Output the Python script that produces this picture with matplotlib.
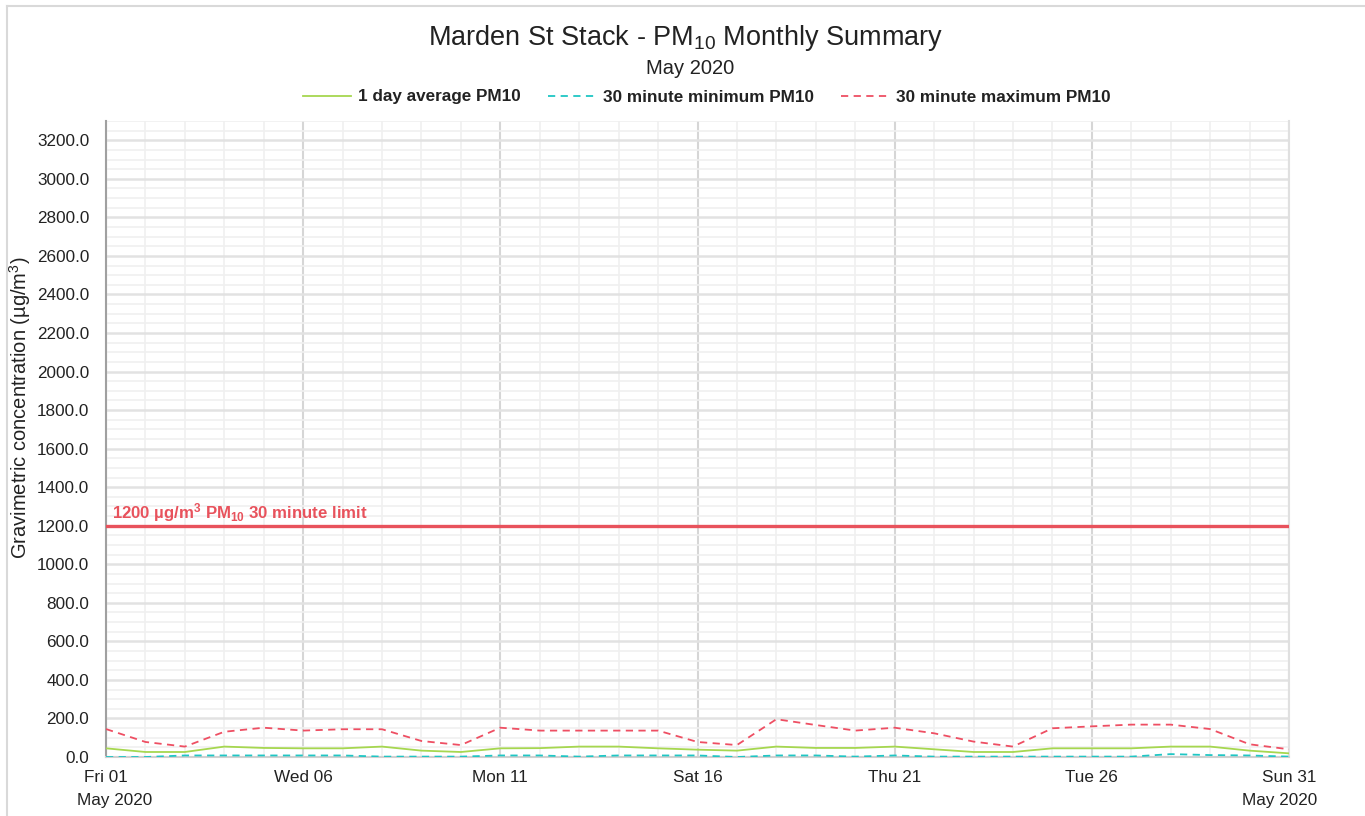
import matplotlib
matplotlib.use("Agg")
import matplotlib.pyplot as plt
from matplotlib.lines import Line2D
from matplotlib.ticker import MultipleLocator, FixedLocator
from matplotlib.transforms import blended_transform_factory

plt.rcParams['font.family'] = ['Liberation Sans', 'DejaVu Sans']
plt.rcParams['mathtext.fontset'] = 'custom'
plt.rcParams['mathtext.rm'] = 'Liberation Sans'
plt.rcParams['mathtext.it'] = 'Liberation Sans:italic'
plt.rcParams['mathtext.bf'] = 'Liberation Sans:bold'

days = list(range(1, 32))
avg_pm10 = [45, 26, 26, 54, 47, 45, 45, 54, 33, 26,
            45, 46, 54, 54, 45, 38, 33, 54, 47, 47,
            54, 40, 26, 26, 45, 45, 45, 54, 54, 33, 19]
min_pm10 = [0, 0, 8, 8, 8, 8, 8, 2, 2, 2,
            8, 8, 2, 8, 8, 8, 0, 8, 8, 2,
            8, 2, 2, 2, 2, 2, 2, 15, 10, 8, 2]
max_pm10 = [145, 78, 54, 131, 152, 137, 144, 144, 83, 62,
            152, 137, 137, 137, 137, 78, 62, 196, 166, 137,
            152, 123, 80, 54, 149, 159, 168, 168, 145, 66, 40]
limit_value = 1200
tick_days = [1, 6, 11, 16, 21, 26, 31]
tick_labels = ["Fri 01", "Wed 06", "Mon 11", "Sat 16", "Thu 21", "Tue 26", "Sun 31"]
month_label = "May 2020"
y_ticks = list(range(0, 3201, 200))

W, H = 1365, 816
fig = plt.figure(figsize=(W / 100, H / 100), dpi=100)
ax = fig.add_axes([106 / W, 1 - 757 / H, (1289 - 106) / W, (757 - 121) / H])

ax.set_xlim(1, 31)
ax.set_ylim(0, 3300)

# grids
ax.xaxis.set_major_locator(FixedLocator(tick_days))
ax.xaxis.set_minor_locator(MultipleLocator(1))
ax.yaxis.set_major_locator(FixedLocator(y_ticks))
ax.yaxis.set_minor_locator(MultipleLocator(50))
ax.grid(which='minor', axis='both', color='#f0f0f0', lw=1.2, zorder=0)
ax.grid(which='major', axis='y', color='#e2e2e2', lw=1.8, zorder=0)
ax.grid(which='major', axis='x', color='#d6d6d6', lw=1.5, zorder=0)
ax.set_axisbelow(True)

ax.plot(days, avg_pm10, color='#a6d74f', lw=1.3, label='1 day average PM10', zorder=3)
ax.plot(days, min_pm10, color='#1fc6c4', lw=1.3, ls=(0, (4, 3)), label='30 minute minimum PM10', zorder=3)
ax.plot(days, max_pm10, color='#ee4f63', lw=1.3, ls=(0, (4, 3)), label='30 minute maximum PM10', zorder=3)

ax.axhline(limit_value, color='#e8525c', lw=2.4, zorder=4)
ax.text(1.15, limit_value + 8, "1200 µg/m$^\\mathbf{3}$ PM$_\\mathbf{10}$ 30 minute limit",
        color='#e8525c', fontsize=12.1, fontweight='bold', va='bottom', ha='left')

ax.set_yticklabels([f"{v:.1f}" for v in y_ticks])
ax.set_xticklabels(tick_labels)
ax.tick_params(axis='both', which='both', length=0)
ax.tick_params(axis='y', labelsize=12.3, pad=12, colors='#222222')
ax.tick_params(axis='x', labelsize=12.3, pad=9, colors='#222222')

# month labels under first and last ticks
trans = blended_transform_factory(ax.transData, fig.transFigure)
ax.text(tick_days[0] + 0.23, 1 - 800 / H, month_label, transform=trans, ha='center', va='center',
        fontsize=12.3, color='#222222')
ax.text(tick_days[-1] - 0.25, 1 - 800 / H, month_label, transform=trans, ha='center', va='center',
        fontsize=12.3, color='#222222')

ax.spines['top'].set_visible(False)
ax.spines['left'].set_color('#a0a0a0')
ax.spines['left'].set_linewidth(1.5)
ax.spines['bottom'].set_color('#d0d0d0')
ax.spines['bottom'].set_linewidth(1.5)
ax.spines['right'].set_color('#e0e0e0')
ax.spines['right'].set_linewidth(1.5)

fig.text(20 / W, 1 - 408 / H, "Gravimetric concentration (µg/m$^3$)", rotation=90,
         ha='center', va='center', fontsize=14.5, color='#222222')

fig.text(686 / W, 1 - 38 / H, "Marden St Stack - PM$_{10}$ Monthly Summary",
         ha='center', va='center', fontsize=19.5, color='#222222')
fig.text(690 / W, 1 - 68 / H, "May 2020", ha='center', va='center', fontsize=14.5, color='#222222')

leg = fig.legend(loc='center', bbox_to_anchor=(707 / W, 1 - 97 / H), ncol=3, frameon=False,
                 prop={'weight': 'bold', 'size': 12.3}, handlelength=2.8, handletextpad=0.4,
                 columnspacing=1.6)
for t in leg.get_texts():
    t.set_color('#222222')

# outer frame
fig.add_artist(Line2D([7 / W, 7 / W], [0, 1 - 6 / H], transform=fig.transFigure, color='#d9d9d9', lw=1.5))
fig.add_artist(Line2D([7 / W, 1], [1 - 6 / H, 1 - 6 / H], transform=fig.transFigure, color='#d9d9d9', lw=1.5))

fig.savefig("out.png", dpi=100)
